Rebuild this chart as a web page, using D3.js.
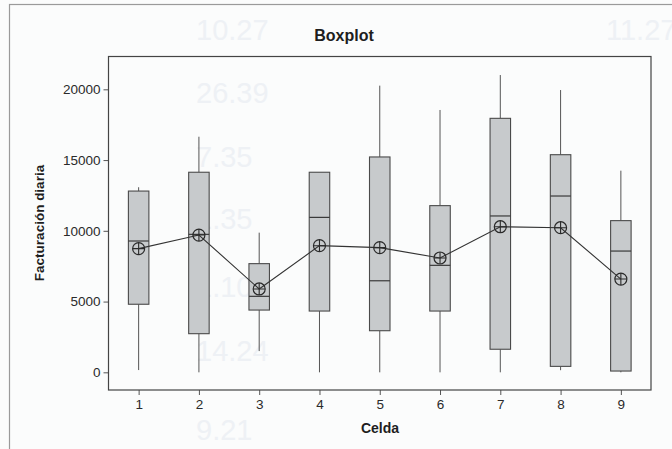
<!DOCTYPE html>
<html>
<head>
<meta charset="utf-8">
<script src="https://cdnjs.cloudflare.com/ajax/libs/d3/7.8.5/d3.min.js"></script>
<style>
  body { margin: 0; background: #ffffff; }
  svg { display: block; }
</style>
</head>
<body>
<svg id="chart" width="672" height="449"></svg>
<script>

    // Data (Facturación diaria por celda)
    var celdas  = [1, 2, 3, 4, 5, 6, 7, 8, 9];
    var minimo  = [160, 0, 1500, 0, 0, 0, 0, 150, 0];
    var q1      = [4810, 2730, 4400, 4330, 2940, 4330, 1630, 420, 90];
    var mediana = [9280, 9750, 5370, 10950, 6470, 7560, 11050, 12460, 8570];
    var q3      = [12810, 14140, 7680, 14140, 15220, 11780, 17950, 15380, 10720];
    var maximo  = [13080, 16650, 9870, 14140, 20260, 18540, 21010, 19950, 14250];
    var media   = [8740, 9700, 5890, 8950, 8810, 8080, 10290, 10220, 6590];

    var yTicks = [0, 5000, 10000, 15000, 20000];

    // faint numbers of the book page showing through the scan
    var fondo = ['10.27', '26.39', '7.35', '1.35', '1.10', '14.24', '9.21'];
    var fondoY = [40, 103, 167, 229, 297, 361, 440];

    var svg = d3.select('#chart');

    var frame = {left: 108.5, right: 651, top: 56.5, bottom: 390};

    // page background + graph window border
    svg.append('rect')
       .attr('width', 672)
       .attr('height', 449)
       .attr('fill', '#fbfcfc');

    svg.selectAll('.fondo')
       .data(fondo)
       .enter()
       .append('text')
       .attr('class', 'fondo')
       .attr('x', 196)
       .attr('y', function(d, i) { return fondoY[i]; })
       .attr('font-family', 'Liberation Sans, sans-serif')
       .attr('font-size', '29px')
       .attr('fill', '#eef1f5')
       .text(function(d) { return d; });

    svg.append('text')
       .attr('x', 606)
       .attr('y', 40)
       .attr('font-family', 'Liberation Sans, sans-serif')
       .attr('font-size', '29px')
       .attr('fill', '#eef1f5')
       .text('11.27');

    svg.append('rect')
       .attr('x', 9.5)
       .attr('y', 4.5)
       .attr('width', 700)
       .attr('height', 460)
       .attr('fill', 'none')
       .attr('stroke', '#9a9a9a')
       .attr('stroke-width', 1.2);

    // Scales
    var xScale = d3.scaleLinear()
                   .domain([0.5, 9.5])
                   .range([frame.left, frame.right]);

    var yScale = d3.scaleLinear()
                   .domain([-1250, 22320])
                   .range([frame.bottom, frame.top]);

    var boxW = xScale(1.34) - xScale(1);

    // Axes
    var yAxis = d3.axisLeft(yScale)
                  .tickValues(yTicks)
                  .tickSize(5)
                  .tickPadding(3)
                  .tickFormat(d3.format('d'));

    var xAxis = d3.axisBottom(xScale)
                  .tickValues(celdas)
                  .tickSize(5)
                  .tickPadding(4)
                  .tickFormat(d3.format('d'));

    svg.append('g')
       .attr('class', 'y axis')
       .attr('transform', 'translate(' + frame.left + ',0)')
       .call(yAxis);

    svg.append('g')
       .attr('class', 'x axis')
       .attr('transform', 'translate(0,' + frame.bottom + ')')
       .call(xAxis);

    svg.selectAll('.axis .domain').remove();
    svg.selectAll('.axis line').attr('stroke', '#555');
    svg.selectAll('.axis text')
       .attr('font-family', 'Liberation Sans, sans-serif')
       .attr('font-size', '13.5px')
       .attr('fill', '#2a2a2a');

    // plot frame
    svg.append('rect')
       .attr('x', frame.left)
       .attr('y', frame.top)
       .attr('width', frame.right - frame.left)
       .attr('height', frame.bottom - frame.top)
       .attr('fill', 'none')
       .attr('stroke', '#444')
       .attr('stroke-width', 1.2);

    // Build rows from the arrays
    var rows = celdas.map(function(c, i) {
        return {celda: c, min: minimo[i], q1: q1[i], med: mediana[i],
                q3: q3[i], max: maximo[i], mean: media[i]};
    });

    var band = svg.append('g')
                  .selectAll('g')
                  .data(rows)
                  .enter()
                  .append('g');

    // whiskers
    band.append('line')
        .attr('x1', function(d) { return xScale(d.celda); })
        .attr('x2', function(d) { return xScale(d.celda); })
        .attr('y1', function(d) { return yScale(d.q3); })
        .attr('y2', function(d) { return yScale(d.max); })
        .attr('stroke', '#555');

    band.append('line')
        .attr('x1', function(d) { return xScale(d.celda); })
        .attr('x2', function(d) { return xScale(d.celda); })
        .attr('y1', function(d) { return yScale(d.q1); })
        .attr('y2', function(d) { return yScale(d.min); })
        .attr('stroke', '#555');

    // boxes
    band.append('rect')
        .attr('x', function(d) { return xScale(d.celda) - boxW / 2; })
        .attr('y', function(d) { return yScale(d.q3); })
        .attr('width', boxW)
        .attr('height', function(d) { return yScale(d.q1) - yScale(d.q3); })
        .attr('fill', '#c7cacc')
        .attr('stroke', '#4a4a4a')
        .attr('stroke-width', 1.1);

    // medians
    band.append('line')
        .attr('x1', function(d) { return xScale(d.celda) - boxW / 2; })
        .attr('x2', function(d) { return xScale(d.celda) + boxW / 2; })
        .attr('y1', function(d) { return yScale(d.med); })
        .attr('y2', function(d) { return yScale(d.med); })
        .attr('stroke', '#3a3a3a')
        .attr('stroke-width', 1.2);

    // line joining the means
    var meanLine = d3.line()
                     .x(function(d) { return xScale(d.celda); })
                     .y(function(d) { return yScale(d.mean); });

    svg.append('path')
       .datum(rows)
       .attr('d', meanLine)
       .attr('fill', 'none')
       .attr('stroke', '#333')
       .attr('stroke-width', 1.1);

    // mean symbols (circle with cross)
    var sym = svg.append('g')
                 .selectAll('g')
                 .data(rows)
                 .enter()
                 .append('g')
                 .attr('transform', function(d) {
                     return 'translate(' + xScale(d.celda) + ',' + yScale(d.mean) + ')';
                 });

    sym.append('circle')
       .attr('r', 6)
       .attr('fill', 'none')
       .attr('stroke', '#2a2a2a')
       .attr('stroke-width', 1.2);

    sym.append('path')
       .attr('d', 'M-6,0H6M0,-6V6')
       .attr('stroke', '#2a2a2a')
       .attr('stroke-width', 1.1);

    // titles
    svg.append('text')
       .attr('x', 344)
       .attr('y', 41)
       .style('text-anchor', 'middle')
       .attr('font-family', 'Liberation Sans, sans-serif')
       .attr('font-weight', 'bold')
       .attr('font-size', '16px')
       .attr('fill', '#1e1e1e')
       .text('Boxplot');

    svg.append('text')
       .attr('transform', 'translate(44,223) rotate(-90)')
       .style('text-anchor', 'middle')
       .attr('font-family', 'Liberation Sans, sans-serif')
       .attr('font-weight', 'bold')
       .attr('font-size', '13.5px')
       .attr('fill', '#1e1e1e')
       .text('Facturación diaria');

    svg.append('text')
       .attr('x', 380)
       .attr('y', 433)
       .style('text-anchor', 'middle')
       .attr('font-family', 'Liberation Sans, sans-serif')
       .attr('font-weight', 'bold')
       .attr('font-size', '14px')
       .attr('fill', '#1e1e1e')
       .text('Celda');

</script>
</body>
</html>
